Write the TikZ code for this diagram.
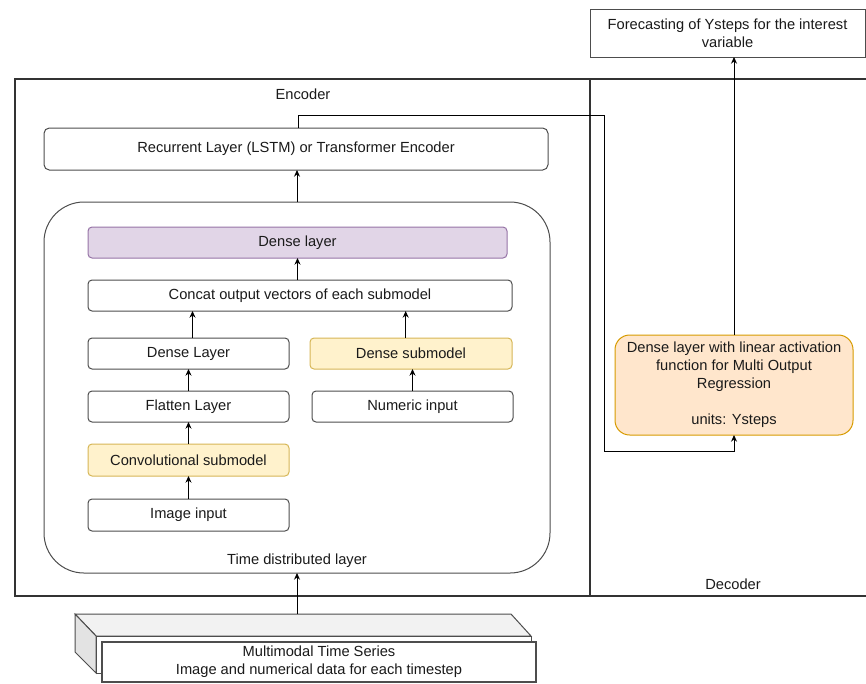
\documentclass[tikz,border=0pt]{standalone}
\usepackage{fontspec}
\setmainfont{Liberation Sans}
\usetikzlibrary{arrows.meta}
\definecolor{lineg}{HTML}{333333}
\definecolor{boxg}{HTML}{4D4D4D}
\definecolor{txt}{HTML}{1A1A1A}
\definecolor{purfill}{HTML}{E1D5E7}
\definecolor{purline}{HTML}{9673A6}
\definecolor{yelfill}{HTML}{FFF2CC}
\definecolor{yelline}{HTML}{D6B656}
\definecolor{orafill}{HTML}{FFE6CC}
\definecolor{oraline}{HTML}{D79B00}
\definecolor{cubetopc}{HTML}{F2F2F2}
\definecolor{cubeside}{HTML}{E3E3E3}
\tikzset{
  wh/.style 2 args={minimum width=#1*0.75pt, minimum height=#2*0.75pt},
  base/.style={inner sep=0pt, outer sep=0pt, text=txt, font=\fontsize{11}{13.5}\selectfont, align=center},
  box/.style={base, draw=boxg, line width=0.75pt, rounded corners=3pt, fill=white},
  purbox/.style={box, draw=purline, fill=purfill},
  yelbox/.style={box, draw=yelline, fill=yelfill},
  orabox/.style={box, draw=oraline, fill=orafill, rounded corners=11pt},
  frame/.style={draw=lineg, line width=1.5pt},
  lbl/.style={base},
  arr/.style={draw=black, line width=0.75pt, -{Stealth[length=5pt,width=4.5pt]}},
  conn/.style={draw=black, line width=0.75pt}
}
\begin{document}
\begin{tikzpicture}[x=0.75pt,y=-0.75pt]
\useasboundingbox (0,0) rectangle (866,683);
% frames
\draw[frame] (15,79) rectangle (590,596);
\draw[frame] (590,79) -- (868,79);
\draw[frame] (590,596) -- (868,596);
\node[lbl] (enclbl) at (303,94) {Encoder};
\node[lbl] (declbl) at (733,584) {Decoder};
% forecast box
\node[box, rounded corners=0pt, wh={275}{48}] (fore) at (727.5,33) {Forecasting of Ysteps for the interest\\variable};
% recurrent
\node[box, wh={504}{42}, rounded corners=4pt] (rec) at (296,149) {Recurrent Layer (LSTM) or Transformer Encoder};
% time distributed
\draw[draw=boxg, line width=0.75pt, rounded corners=30pt] (44,202) rectangle (550,573);
\coordinate (tdS) at (297,573);
\coordinate (tdN) at (297,202);
\node[lbl] (tdlbl) at (297,561) {Time distributed layer};
% inner boxes
\node[purbox, wh={419}{31}] (dl) at (297.5,242.5) {Dense layer};
\node[box, wh={424}{31}] (cc) at (300,295.5) {Concat output vectors of each submodel};
\node[box, wh={201}{31}] (dL) at (188.5,353.5) {Dense Layer};
\node[yelbox, wh={202}{31}] (ds) at (411,353.5) {Dense submodel};
\node[box, wh={201}{31}] (fl) at (188.5,406.5) {Flatten Layer};
\node[box, wh={201}{31}] (ni) at (412.5,406.5) {Numeric input};
\node[yelbox, wh={201}{32}] (cv) at (188.5,460) {Convolutional submodel};
\node[box, wh={201}{32}] (ii) at (188.5,515) {Image input};
% decoder dense
\node[orabox, wh={238}{100}] (dd) at (734,385) {Dense layer with linear activation\\function for Multi Output\\Regression\\[13.5pt]units: Ysteps};
% cube
\draw[draw=boxg, line width=0.75pt, fill=cubetopc] (75,614) -- (511,614) -- (531,636) -- (96,636) -- cycle;
\draw[draw=boxg, line width=0.75pt, fill=cubeside] (75,614) -- (96,636) -- (96,673) -- (75,652) -- cycle;
\draw[draw=boxg, line width=0.75pt, fill=white] (96,636) rectangle (531,673);
\coordinate (cubetop) at (297,614);
\node[box, rounded corners=0pt, wh={434}{40}, line width=1pt] (mm) at (319,662) {Multimodal Time Series\\Image and numerical data for each timestep};
% connectors
\draw[arr] (cubetop) -- (tdS);
\draw[arr] (tdN) -- (tdN |- rec.south);
\draw[arr] (cc.north -| dl.south) -- (dl.south);
\draw[arr] ([xshift=3pt]dL.north) -- ([xshift=3pt]dL.north |- cc.south);
\draw[arr] ([xshift=-4pt]ds.north) -- ([xshift=-4pt]ds.north |- cc.south);
\draw[arr] (fl.north) -- (dL.south);
\draw[arr] (cv.north) -- (fl.south);
\draw[arr] (ii.north) -- (cv.south);
\draw[arr] (ni.north) -- (ds.south -| ni.north);
\coordinate (bendA) at (298,115);
\coordinate (bendB) at (604,115);
\coordinate (bendC) at (604,451);
\draw[arr] (rec.north -| bendA) -- (bendA) -- (bendB) -- (bendC) -- (bendC -| dd.south) -- (dd.south);
\draw[arr] (dd.north) -- (dd.north |- fore.south);
\end{tikzpicture}
\end{document}
